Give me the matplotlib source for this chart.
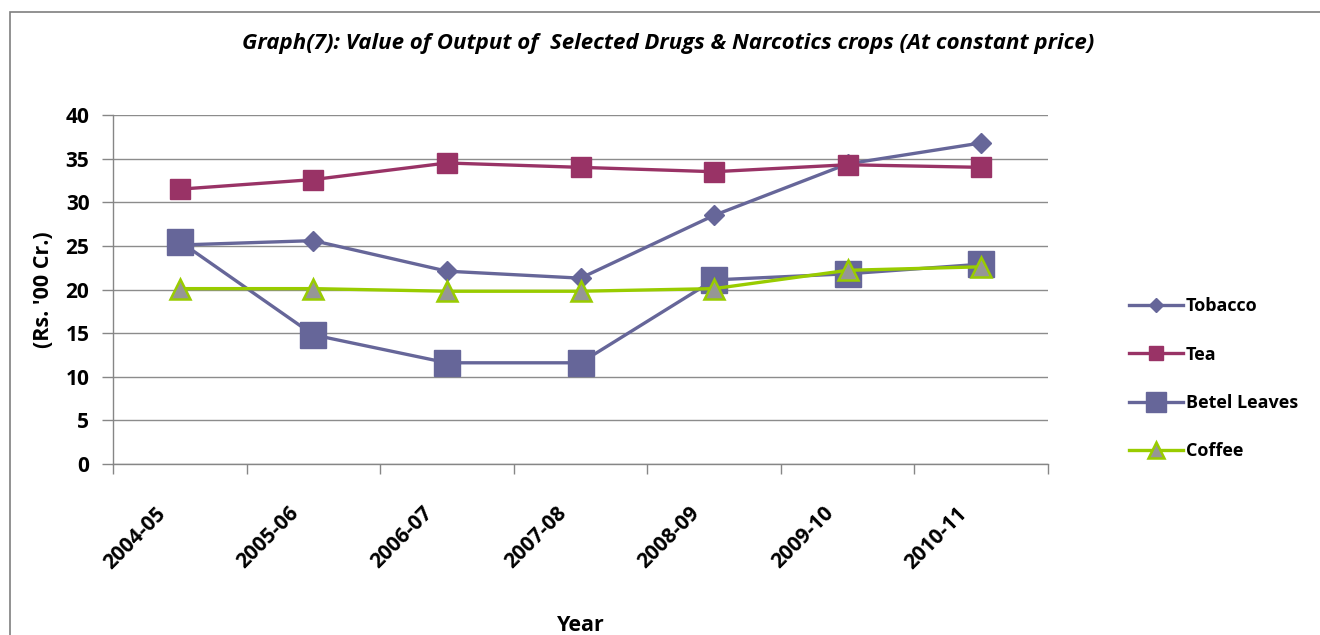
import matplotlib
matplotlib.use("Agg")
import matplotlib.pyplot as plt
from matplotlib.patches import Rectangle
from matplotlib.transforms import ScaledTranslation

years = ["2004-05", "2005-06", "2006-07", "2007-08", "2008-09", "2009-10", "2010-11"]
tobacco = [25.1, 25.6, 22.1, 21.3, 28.5, 34.4, 36.8]
tea = [31.5, 32.6, 34.5, 34.0, 33.5, 34.3, 34.0]
betel = [25.5, 14.8, 11.6, 11.6, 21.1, 21.8, 22.9]
coffee = [20.1, 20.1, 19.8, 19.8, 20.1, 22.2, 22.6]
yticks = [0, 5, 10, 15, 20, 25, 30, 35, 40]

plt.rcParams['font.family'] = ['Open Sans', 'DejaVu Sans']

W, H = 1320, 635
fig = plt.figure(figsize=(W / 100, H / 100), dpi=100)
fig.patch.set_facecolor('white')

# chart border
fig.patches.append(Rectangle((10 / W, -0.05), 1.1, (H - 12) / H + 0.05, transform=fig.transFigure,
                             fill=False, edgecolor='#7f7f7f', linewidth=1.2))

ax = fig.add_axes([113 / W, 1 - 464 / H, (1048 - 113) / W, (464 - 115) / H])
x = list(range(len(years)))

purple = '#666699'
ax.plot(x, tobacco, color=purple, lw=2.4, marker='D', ms=10, mfc=purple, mec=purple, label='Tobacco', zorder=3)
ax.plot(x, tea, color='#993366', lw=2.4, marker='s', ms=14, mfc='#993366', mec='#993366', label='Tea', zorder=4)
ax.plot(x, betel, color=purple, lw=2.4, marker='s', ms=19, mfc=purple, mec=purple, label='Betel Leaves', zorder=3)
ax.plot(x, coffee, color='#99CC00', lw=2.4, marker='^', ms=15, mfc='#969696', mec='#99CC00', mew=1.8,
        label='Coffee', zorder=5)

ax.set_xlim(-0.5, len(years) - 0.5)
ax.set_ylim(0, 40)
ax.set_yticks(yticks)
ax.set_yticklabels([str(v) for v in yticks], fontsize=15, fontweight='bold')
ax.tick_params(axis='y', length=8, color='#868686', width=1, pad=9)
ax.grid(axis='y', color='#8c8c8c', lw=1)
ax.set_axisbelow(True)

ax.set_xticks(x)
ax.set_xticklabels(years, fontsize=15, fontweight='bold', rotation=45, ha='right', va='top')
ax.set_xticks([i - 0.5 for i in range(len(years) + 1)], minor=True)
ax.tick_params(axis='x', which='major', length=0, pad=28)
ax.tick_params(axis='x', which='minor', length=7, color='#868686', width=1)
offset = ScaledTranslation(-10 / 100, 0, fig.dpi_scale_trans)
for lab in ax.get_xticklabels():
    lab.set_transform(lab.get_transform() + offset)

for s in ['top', 'right']:
    ax.spines[s].set_visible(False)
for s in ['left', 'bottom']:
    ax.spines[s].set_color('#868686')
    ax.spines[s].set_linewidth(1)

ax.set_ylabel("(Rs. '00 Cr.)", fontsize=15.5, fontweight='bold', labelpad=8)
ax.set_xlabel("Year", fontsize=15.5, fontweight='bold', labelpad=30)

fig.text(668 / W, 1 - 43 / H, "Graph(7): Value of Output of  Selected Drugs & Narcotics crops (At constant price)",
         ha='center', va='center', fontsize=16, fontweight='bold', style='italic')

leg = fig.legend(loc='upper left', bbox_to_anchor=(1113 / W, 1 - 281 / H), frameon=False,
                 prop={'weight': 'bold', 'size': 13}, labelspacing=1.68, handlelength=3.0,
                 handletextpad=0.15, markerscale=0.75)

fig.savefig('out.png', dpi=100)
